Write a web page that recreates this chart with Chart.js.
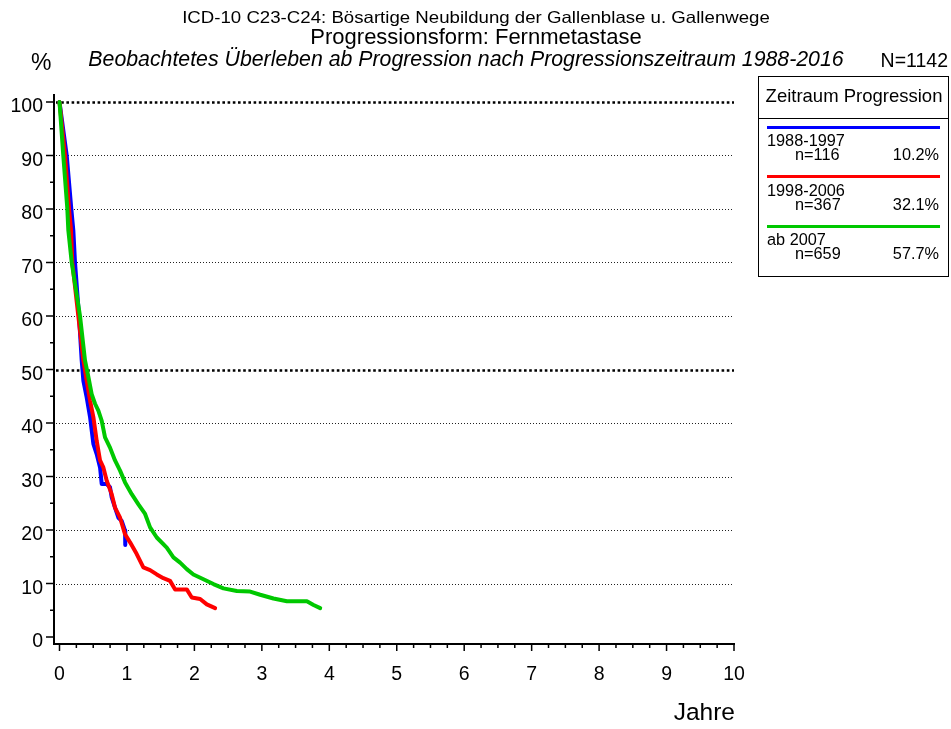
<!DOCTYPE html>
<html>
<head>
<meta charset="utf-8">
<title>Beobachtetes Überleben ab Progression</title>
<script src="https://cdn.jsdelivr.net/npm/chart.js@4.4.1/dist/chart.umd.min.js"></script>
<style>
  html, body { margin: 0; padding: 0; background: #fff; }
  #wrap { position: relative; width: 951px; height: 729px; font-family: "Liberation Sans", Arial, sans-serif; color: #000; }
  #wrap canvas { position: absolute; left: 0; top: 0; }
  .t { position: absolute; white-space: nowrap; line-height: 1; }
  #legendBox { position: absolute; left: 758px; top: 76px; width: 191px; height: 201px; box-sizing: border-box; border: 1.5px solid #000; }
  .swatch { position: absolute; height: 3px; }
</style>
</head>
<body>
<div id="wrap">
  <canvas id="kmChart" width="951" height="729"></canvas>
</div>
<script>
// survival curves (years since progression, % surviving)
const blueYears = [0, 0.107, 0.175, 0.205, 0.23, 0.289, 0.329, 0.354, 0.403, 0.453, 0.502, 0.551, 0.601, 0.626, 0.700, 0.749, 0.774, 0.823, 0.873, 0.922, 0.972, 0.975];
const blueSurv  = [100, 90, 80, 76, 70, 60, 51.7, 47.9, 44.8, 41.1, 36.1, 34.2, 31.7, 28.6, 28.6, 28.0, 26.1, 24.2, 22.3, 21.7, 19.9, 17.2];

const redYears = [0, 0.082, 0.141, 0.171, 0.19, 0.279, 0.354, 0.403, 0.453, 0.502, 0.551, 0.601, 0.650, 0.700, 0.774, 0.823, 0.898, 0.972, 1.046, 1.145, 1.243, 1.343, 1.442, 1.540, 1.639, 1.714, 1.887, 1.961, 2.085, 2.184, 2.307];
const redSurv  = [100, 90, 80, 76, 70, 60, 51.7, 47.9, 44.2, 41.1, 36.7, 33.0, 31.7, 29.2, 26.7, 24.2, 22.3, 19.2, 17.7, 15.5, 13.0, 12.5, 11.7, 11.0, 10.5, 8.9, 8.9, 7.4, 7.1, 6.1, 5.4];

const greenYears = [0, 0.056, 0.116, 0.131, 0.181, 0.304, 0.378, 0.428, 0.477, 0.527, 0.576, 0.626, 0.675, 0.749, 0.823, 0.898, 0.972, 1.071, 1.170, 1.269, 1.343, 1.442, 1.590, 1.689, 1.788, 1.887, 1.985, 2.134, 2.282, 2.430, 2.629, 2.826, 2.975, 3.172, 3.371, 3.668, 3.766, 3.865];
const greenSurv  = [100, 90, 80, 76, 70, 60, 51.7, 48.6, 45.4, 43.6, 42.3, 40.4, 37.3, 35.4, 33.0, 31.1, 28.9, 26.7, 24.8, 23.0, 20.5, 18.6, 16.7, 14.9, 13.9, 12.7, 11.7, 10.8, 9.9, 9.1, 8.6, 8.5, 7.9, 7.2, 6.7, 6.7, 6.0, 5.4];

const groupNames = ["1988-1997", "1998-2006", "ab 2007"];
const groupN = ["n=116", "n=367", "n=659"];
const groupShare = ["10.2%", "32.1%", "57.7%"];
const groupColors = ["#0000ff", "#ff0000", "#00c800"];

const xTickValues = [0, 1, 2, 3, 4, 5, 6, 7, 8, 9, 10];
const yTickValues = [0, 10, 20, 30, 40, 50, 60, 70, 80, 90, 100];
const yGridValues = [10, 20, 30, 40, 50, 60, 70, 80, 90, 100];

const FONT = '"Liberation Sans", Arial, sans-serif';
const wrap = document.getElementById("wrap");

// text helper: x is left / center / right edge depending on align, base is the baseline
function addText(parent, txt, x, base, size, opts) {
  opts = opts || {};
  const d = document.createElement("div");
  d.className = "t";
  d.textContent = txt;
  d.style.fontSize = size + "px";
  d.style.top = (base - 0.8465 * size) + "px";
  if (opts.italic) d.style.fontStyle = "italic";
  const sx = opts.scaleX || 1;
  if (opts.align === "center") {
    d.style.left = x + "px";
    d.style.transform = "translateX(-50%) scaleX(" + sx + ")";
  } else if (opts.align === "right") {
    d.style.right = (parseFloat(getComputedStyle(parent).width) - x) + "px";
    d.style.transformOrigin = "right center";
    d.style.transform = "scaleX(" + sx + ")";
  } else {
    d.style.left = x + "px";
    d.style.transformOrigin = "left center";
    d.style.transform = "scaleX(" + sx + ")";
  }
  parent.appendChild(d);
  return d;
}

addText(wrap, "ICD-10 C23-C24: Bösartige Neubildung der Gallenblase u. Gallenwege", 476, 22.5, 16.5, { align: "center", scaleX: 1.13 });
addText(wrap, "Progressionsform: Fernmetastase", 476, 44.5, 22, { align: "center" });
addText(wrap, "Beobachtetes Überleben ab Progression nach Progressionszeitraum 1988-2016", 466, 67.5, 21.3, { align: "center", italic: true });
addText(wrap, "%", 31, 70, 23);
addText(wrap, "N=1142", 948, 68, 19.5, { align: "right" });
addText(wrap, "Jahre", 735, 721, 24.5, { align: "right" });

// legend box
const box = document.createElement("div");
box.id = "legendBox";
wrap.appendChild(box);
addText(box, "Zeitraum Progression", 95, 25.5, 18.5, { align: "center" });
const sep = document.createElement("div");
sep.style.cssText = "position:absolute;left:0;right:0;top:40.5px;height:1.5px;background:#000;";
box.appendChild(sep);
groupNames.forEach((name, i) => {
  const top = 48.5 + i * 49.8;
  const sw = document.createElement("div");
  sw.className = "swatch";
  sw.style.cssText += "left:8px;width:173px;top:" + top + "px;background:" + groupColors[i] + ";";
  box.appendChild(sw);
  addText(box, name, 8, top + 20, 16.3);
  addText(box, groupN[i], 36, top + 34, 16.3);
  addText(box, groupShare[i], 182, top + 34, 16.3, { align: "right" });
});

function toPoints(xs, ys) {
  return xs.map((x, i) => ({ x: x, y: ys[i] }));
}

// dotted horizontal grid, heavier at 50 and 100
const dottedGrid = {
  id: "dottedGrid",
  beforeDatasetsDraw(chart) {
    const { ctx, chartArea, scales } = chart;
    ctx.save();
    yGridValues.forEach(v => {
      const y = Math.round(scales.y.getPixelForValue(v)) + 0.5;
      const heavy = (v === 50 || v === 100);
      ctx.beginPath();
      ctx.setLineDash(heavy ? [2.6, 2.6] : [1, 2]);
      ctx.lineWidth = heavy ? 2.6 : 1.2;
      ctx.strokeStyle = heavy ? "#000" : "#222";
      ctx.moveTo(chartArea.left + 2, y);
      ctx.lineTo(chartArea.right, y);
      ctx.stroke();
    });
    ctx.restore();
  }
};

// major and minor tick marks outside the axes
const tickMarks = {
  id: "tickMarks",
  afterDraw(chart) {
    const { ctx, chartArea, scales } = chart;
    ctx.save();
    ctx.strokeStyle = "#000";
    ctx.lineWidth = 1.5;
    ctx.beginPath();
    for (let v = 0; v <= 100; v += 5) {
      const y = scales.y.getPixelForValue(v);
      const len = v % 10 === 0 ? 8 : 4;
      ctx.moveTo(chartArea.left - len, y);
      ctx.lineTo(chartArea.left, y);
    }
    for (let k = 0; k <= 40; k++) {
      const x = scales.x.getPixelForValue(k / 4);
      const len = k % 4 === 0 ? 7 : 4;
      ctx.moveTo(x, chartArea.bottom);
      ctx.lineTo(x, chartArea.bottom + len);
    }
    ctx.stroke();
    ctx.restore();
  }
};

const lineStyle = { borderWidth: 4, pointRadius: 0, tension: 0, fill: false, borderJoinStyle: "round", borderCapStyle: "round" };

new Chart(document.getElementById("kmChart").getContext("2d"), {
  type: "line",
  data: {
    datasets: [
      Object.assign({ label: groupNames[0], data: toPoints(blueYears, blueSurv), borderColor: groupColors[0], order: 2 }, lineStyle),
      Object.assign({ label: groupNames[1], data: toPoints(redYears, redSurv), borderColor: groupColors[1], order: 1 }, lineStyle),
      Object.assign({ label: groupNames[2], data: toPoints(greenYears, greenSurv), borderColor: groupColors[2], order: 0 }, lineStyle)
    ]
  },
  options: {
    responsive: false,
    animation: false,
    devicePixelRatio: 1,
    layout: { padding: { top: 95, right: 217, left: 0, bottom: 0 } },
    plugins: { legend: { display: false }, title: { display: false }, tooltip: { enabled: false } },
    scales: {
      x: {
        type: "linear",
        min: -0.0816,
        max: 10,
        afterBuildTicks: s => { s.ticks = xTickValues.map(v => ({ value: v })); },
        afterFit: s => { s.height = 85; },
        grid: { display: false, drawTicks: false },
        border: { display: true, color: "#000", width: 2 },
        ticks: { color: "#000", font: { family: FONT, size: 19.5 }, padding: 19, labelOffset: 0, maxRotation: 0, autoSkip: false }
      },
      y: {
        type: "linear",
        min: -1.3,
        max: 101.3,
        afterBuildTicks: s => { s.ticks = yTickValues.map(v => ({ value: v })); },
        afterFit: s => { s.width = 54; },
        grid: { display: false, drawTicks: false },
        border: { display: true, color: "#000", width: 2 },
        ticks: { color: "#000", font: { family: FONT, size: 19.5 }, padding: 11, labelOffset: 5, autoSkip: false }
      }
    }
  },
  plugins: [dottedGrid, tickMarks]
});
</script>
</body>
</html>
